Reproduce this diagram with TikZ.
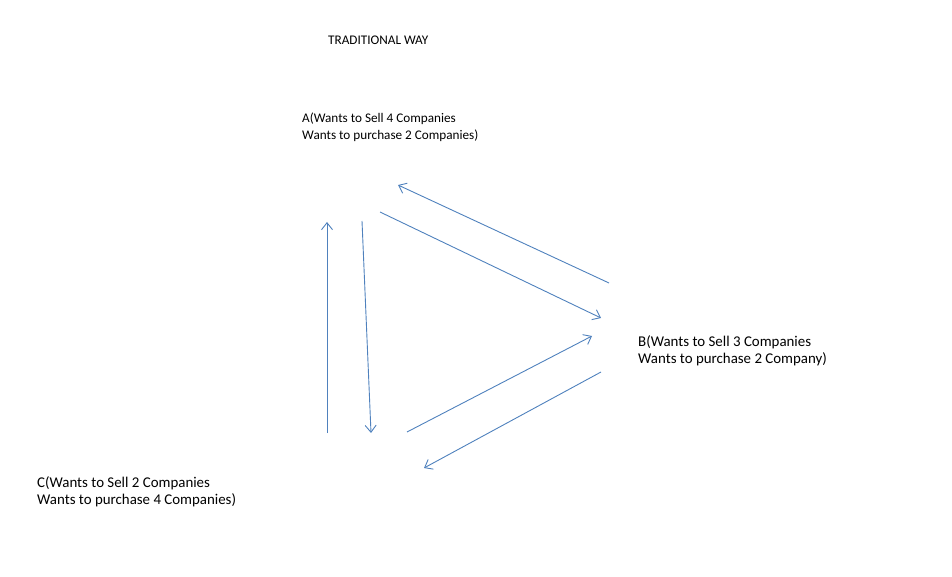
\documentclass[tikz,border=0pt]{standalone}
\usepackage{fontspec}
\setmainfont{Carlito}
\usetikzlibrary{arrows.meta}
\definecolor{arrowblue}{HTML}{4F81BD}
\begin{document}
\begin{tikzpicture}[x=1pt,y=-1pt,
  conn/.style={draw=arrowblue, line width=0.9pt, -{Straight Barb[length=7pt,width=11pt,line width=0.9pt]}},
  smalllabel/.style={anchor=north west, inner sep=0pt, align=left, font=\fontsize{13.2}{16.5}\selectfont},
  biglabel/.style={anchor=north west, inner sep=0pt, align=left, font=\fontsize{14.9}{17}\selectfont}]
\useasboundingbox (0,0) rectangle (952,577);
\node[smalllabel] (title) at (328,36) {TRADITIONAL WAY};
\node[smalllabel] (A) at (302,113) {A(Wants to Sell 4 Companies\\Wants to purchase 2 Companies)};
\node[biglabel] (B) at (638,335) {B(Wants to Sell 3 Companies\\Wants to purchase 2 Company)};
\node[biglabel] (C) at (37,476) {C(Wants to Sell 2 Companies\\Wants to purchase 4 Companies)};
% arrow endpoints
\coordinate (a1s) at (327,433); \coordinate (a1e) at (327,222);
\coordinate (a2s) at (362,221); \coordinate (a2e) at (371,433);
\coordinate (a3s) at (380,212); \coordinate (a3e) at (601,318);
\coordinate (a4s) at (609,283); \coordinate (a4e) at (398,185);
\coordinate (a5s) at (407,432); \coordinate (a5e) at (592,336);
\coordinate (a6s) at (601,372); \coordinate (a6e) at (424,468);
\draw[conn] (a1s) -- (a1e);
\draw[conn] (a2s) -- (a2e);
\draw[conn] (a3s) -- (a3e);
\draw[conn] (a4s) -- (a4e);
\draw[conn] (a5s) -- (a5e);
\draw[conn] (a6s) -- (a6e);
\end{tikzpicture}
\end{document}
